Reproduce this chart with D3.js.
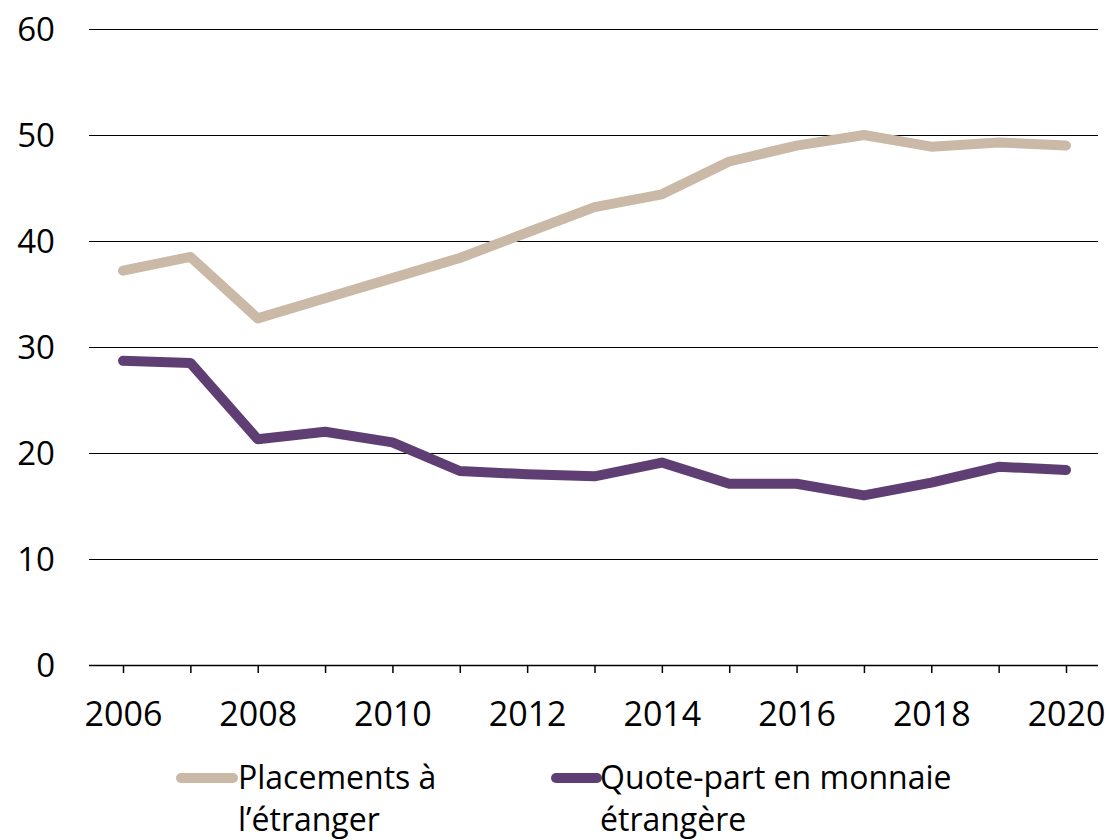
<!DOCTYPE html>
<html>
<head>
<meta charset="utf-8">
<script src="https://cdn.jsdelivr.net/npm/d3@7"></script>
<style>
  body { margin: 0; background: #fff; }
  svg { font-family: "Open Sans", "Noto Sans", sans-serif; }
</style>
</head>
<body>
<svg id="chart"></svg>
<script>
const years = [2006, 2007, 2008, 2009, 2010, 2011, 2012, 2013, 2014, 2015, 2016, 2017, 2018, 2019, 2020];
const placements = [37.2, 38.5, 32.7, 34.6, 36.5, 38.4, 40.8, 43.2, 44.4, 47.5, 49.0, 50.0, 48.9, 49.3, 49.0];
const quotePart = [28.7, 28.5, 21.3, 22.0, 21.0, 18.3, 18.0, 17.8, 19.1, 17.1, 17.1, 16.0, 17.2, 18.7, 18.4];
const yTicks = [0, 10, 20, 30, 40, 50, 60];
const xTicks = [2006, 2008, 2010, 2012, 2014, 2016, 2018, 2020];
const seriesNames = [["Placements à", "l’étranger"], ["Quote-part en monnaie", "étrangère"]];
const colors = ["#cbb9a7", "#5f3f73"];

const width = 1110;
const height = 840;
const plotLeft = 89, plotRight = 1098, plotTop = 29, plotBottom = 665;

const svg = d3.select("#chart").attr("width", width).attr("height", height);

// 2006 sits at 123, 2020 at 1066
const xScale = d3.scaleLinear()
  .domain([2006 - (123 - plotLeft) / 67.36, 2020 + (plotRight - 1066) / 67.36])
  .range([plotLeft, plotRight]);

const yScale = d3.scaleLinear().domain([0, 60]).range([plotBottom, plotTop]);

// gridlines
svg.append("g")
  .attr("transform", "translate(0,0.5)")
  .selectAll("line")
  .data(yTicks.filter(d => d > 0))
  .enter()
  .append("line")
  .attr("x1", plotLeft)
  .attr("x2", plotRight)
  .attr("y1", d => yScale(d))
  .attr("y2", d => yScale(d))
  .attr("stroke", "#000")
  .attr("stroke-width", 1);

// y labels
svg.append("g")
  .selectAll("text")
  .data(yTicks)
  .enter()
  .append("text")
  .attr("x", 55)
  .attr("y", d => yScale(d))
  .attr("dy", "0.36em")
  .attr("text-anchor", "end")
  .attr("font-size", 33)
  .attr("fill", "#000")
  .text(d => d);

// x axis
const xAxis = d3.axisBottom(xScale)
  .tickValues(years)
  .tickSize(8)
  .tickFormat(d => (xTicks.includes(d) ? d : ""));

const gx = svg.append("g")
  .attr("transform", "translate(0," + plotBottom + ")")
  .call(xAxis);
gx.select(".domain").attr("d", "M" + plotLeft + ",0.5H" + plotRight).attr("stroke", "#000").attr("stroke-width", 1.5);
gx.selectAll(".tick line").attr("stroke", "#000").attr("stroke-width", 1.5);
gx.selectAll(".tick text")
  .attr("font-size", 34)
  .attr("font-family", "'Open Sans', 'Noto Sans', sans-serif")
  .attr("fill", "#000")
  .attr("y", 37);

const line = d3.line()
  .x((d, i) => xScale(years[i]))
  .y(d => yScale(d));

[placements, quotePart].forEach((s, k) => {
  svg.append("path")
    .datum(s)
    .attr("d", line)
    .attr("fill", "none")
    .attr("stroke", colors[k])
    .attr("stroke-width", 10)
    .attr("stroke-linecap", "round")
    .attr("stroke-linejoin", "round");
});

// legend
const legendX = [[181, 233, 238], [556, 597, 600]];
seriesNames.forEach((lines, k) => {
  const g = svg.append("g");
  g.append("line")
    .attr("x1", legendX[k][0])
    .attr("x2", legendX[k][1])
    .attr("y1", 778)
    .attr("y2", 778)
    .attr("stroke", colors[k])
    .attr("stroke-width", 10)
    .attr("stroke-linecap", "round");
  lines.forEach((t, j) => {
    g.append("text")
      .attr("x", legendX[k][2])
      .attr("y", 789 + j * 42)
      .attr("font-size", 32)
      .attr("fill", "#000")
      .text(t);
  });
});
</script>
</body>
</html>
